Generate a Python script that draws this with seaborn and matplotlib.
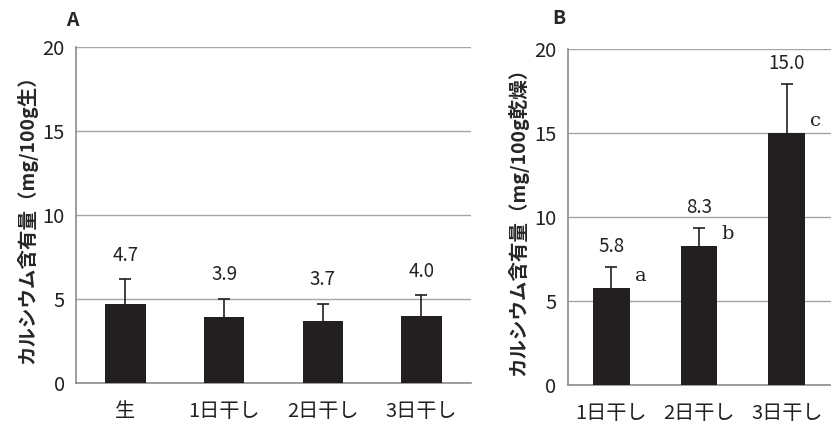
import matplotlib
matplotlib.use('Agg')
import matplotlib.pyplot as plt
from matplotlib.ticker import MultipleLocator, FixedLocator
import seaborn as sns
import pandas as pd

# panel A: raw vs dried, per 100 g fresh weight
cats_a = ['生', '1日干し', '2日干し', '3日干し']
vals_a = [4.7, 3.9, 3.7, 4.0]
err_a = [1.45, 1.1, 1.0, 1.2]

# panel B: dried, per 100 g dry weight
cats_b = ['1日干し', '2日干し', '3日干し']
vals_b = [5.8, 8.3, 15.0]
err_b = [1.25, 1.05, 2.95]
letters_b = ['a', 'b', 'c']

ylabel_a = 'カルシウム含有量（mg/100g生）'
ylabel_b = 'カルシウム含有量（mg/100g乾燥）'

sns.set_style('white')
plt.rcParams['font.family'] = ['Noto Sans CJK JP', 'DejaVu Sans']

BAR = '#231f20'
GREY = '#8c8c8c'
TXT = '#222222'


def draw_panel(ax, cats, vals, errs, ylabel, width, label_off):
    df = pd.DataFrame({'cat': cats, 'val': vals})
    sns.barplot(data=df, x='cat', y='val', color=BAR, saturation=1,
                width=width, errorbar=None, ax=ax, zorder=3, linewidth=0)
    xs = list(range(len(cats)))
    tops = [v + e for v, e in zip(vals, errs)]
    # upper-only error bars with a cap on top
    ax.vlines(xs, vals, tops, color=BAR, linewidth=1.2, zorder=4)
    ax.plot(xs, tops, linestyle='none', marker='_', markersize=8,
            markeredgewidth=1.2, color=BAR, zorder=4)
    for x, v, t in zip(xs, vals, tops):
        ax.text(x, t + label_off, f'{v:.1f}', ha='center', va='bottom',
                fontsize=13.5, color=TXT)

    ax.set_ylim(0, 20)
    ax.set_xlim(-0.5, len(cats) - 0.5)
    ax.yaxis.set_major_locator(MultipleLocator(5))
    ax.xaxis.set_minor_locator(FixedLocator([i - 0.5 for i in range(len(cats) + 1)]))
    ax.grid(axis='y', color='#a6a6a6', linewidth=1, zorder=0)
    ax.set_axisbelow(True)
    for s in ['top', 'right']:
        ax.spines[s].set_visible(False)
    for s in ['left', 'bottom']:
        ax.spines[s].set_color(GREY)
        ax.spines[s].set_linewidth(1.2)
    ax.tick_params(axis='y', which='major', length=5, color=GREY,
                   labelsize=14.5, pad=3, labelcolor=TXT)
    ax.tick_params(axis='x', which='major', length=0, labelsize=14.5,
                   pad=13, labelcolor=TXT)
    ax.tick_params(axis='x', which='minor', length=5, color=GREY, width=1)
    ax.set_xlabel('')
    ax.set_ylabel(ylabel, fontsize=14, fontweight='bold', labelpad=4)


fig = plt.figure(figsize=(8.31, 4.23), dpi=100)
ax_a = fig.add_axes([0.0915, 0.0953, 0.475, 0.794])
ax_b = fig.add_axes([0.683, 0.0898, 0.3165, 0.7936])

draw_panel(ax_a, cats_a, vals_a, err_a, ylabel_a, 0.41, 0.8)
draw_panel(ax_b, cats_b, vals_b, err_b, ylabel_b, 0.42, 0.6)

for i, (v, letter) in enumerate(zip(vals_b, letters_b)):
    ax_b.text(i + 0.33, v + 0.7, letter, ha='center', va='center',
              fontsize=14, family='DejaVu Serif', color=TXT)

fig.text(66 / 831, 1 - 20 / 423, 'A', fontsize=14, fontweight='bold',
         ha='left', va='center')
fig.text(552 / 831, 1 - 18 / 423, 'B', fontsize=14, fontweight='bold',
         ha='left', va='center')

fig.savefig('out.png', dpi=100)
